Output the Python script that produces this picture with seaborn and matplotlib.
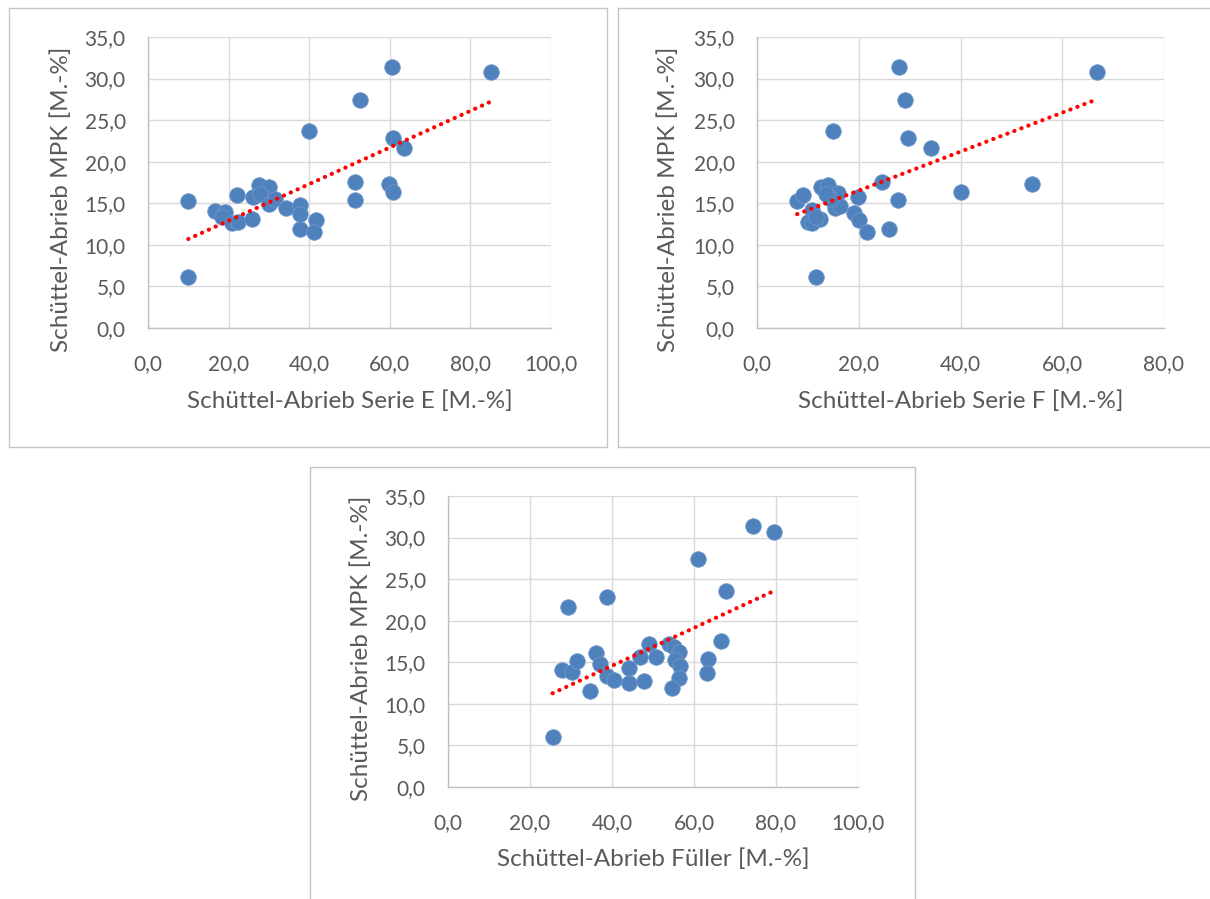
import numpy as np
import pandas as pd
import seaborn as sns
import matplotlib
matplotlib.use("Agg")
import matplotlib.pyplot as plt
from matplotlib.patches import Rectangle
from matplotlib.ticker import FuncFormatter, MultipleLocator

# ---------------- data ----------------
y_label = "Schüttel-Abrieb MPK [M.-%]"

x_e = [10.0, 10.0, 16.6, 19.1, 18.3, 20.8, 22.4, 22.2, 25.7, 26.1, 27.6, 30.1, 27.8, 30.1, 31.5, 34.2,
       37.6, 37.6, 37.6, 41.6, 41.2, 40.0, 52.5, 51.4, 51.4, 59.9, 60.9, 60.7, 63.6, 60.5, 85.0]
y_e = [15.3, 6.1, 14.1, 14.0, 13.4, 12.6, 12.8, 16.0, 13.1, 15.7, 17.2, 17.0, 16.1, 14.9, 15.5, 14.4,
       14.8, 13.7, 11.9, 13.0, 11.5, 23.7, 27.4, 17.6, 15.4, 17.3, 16.3, 22.9, 21.7, 31.4, 30.8]

x_f = [7.9, 9.0, 11.6, 10.8, 10.1, 10.8, 12.4, 12.6, 13.9, 16.0, 14.1, 15.4, 16.4, 19.8, 19.1, 20.1,
       21.6, 24.6, 27.7, 25.9, 14.9, 28.0, 29.1, 29.7, 34.2, 40.1, 54.0, 66.8, 14.5, 13.5, 11.5]
y_f = [15.3, 16.0, 6.1, 14.2, 12.8, 12.6, 13.1, 17.0, 17.2, 16.2, 15.8, 14.4, 14.7, 15.7, 13.8, 13.0,
       11.5, 17.6, 15.4, 11.9, 23.7, 31.4, 27.4, 22.9, 21.7, 16.3, 17.3, 30.8, 15.5, 16.1, 13.4]

x_g = [25.5, 29.2, 38.7, 27.7, 30.3, 31.5, 34.6, 36.0, 37.1, 38.7, 40.6, 44.2, 44.2, 46.8, 47.8, 49.1,
       50.7, 54.0, 55.0, 56.4, 55.4, 56.6, 56.4, 54.6, 63.5, 63.1, 66.6, 67.8, 61.0, 74.5, 79.6]
y_g = [6.0, 21.7, 22.8, 14.1, 13.8, 15.2, 11.6, 16.1, 14.8, 13.3, 12.9, 14.3, 12.5, 15.6, 12.7, 17.2,
       15.6, 17.2, 16.8, 16.2, 15.3, 14.6, 13.1, 11.9, 15.4, 13.7, 17.6, 23.6, 27.4, 31.4, 30.7]

x_labels = ["Schüttel-Abrieb Serie E [M.-%]", "Schüttel-Abrieb Serie F [M.-%]", "Schüttel-Abrieb Füller [M.-%]"]
x_max = [100, 80, 100]

# ---------------- style ----------------
sns.set_theme(style="whitegrid")
plt.rcParams['font.family'] = ['Lato', 'DejaVu Sans']

W, H = 1210, 899
fig = plt.figure(figsize=(W / 100, H / 100), dpi=100)
fig.patch.set_facecolor("white")

TEXT = "#595959"
GRID = "#d9d9d9"
AXIS = "#bfbfbf"
BLUE = "#4f81bd"

# frames (pixel boxes: left, top, right, bottom)
frames = [(9, 8, 607, 447), (618, 8, 1216, 447), (310, 467, 915, 905)]
for (l, t, r, b) in frames:
    fig.patches.append(Rectangle((l / W, 1 - b / H), (r - l) / W, (b - t) / H,
                                 transform=fig.transFigure, fill=False,
                                 edgecolor="#c4c4c4", linewidth=1.0))

axes_px = [(148, 37, 551, 328), (757, 37, 1164, 328), (448, 496, 858, 787)]
xlab_y_px = [401, 401, 859]
ylab_x_px = [61, 668, 361]

fmt = FuncFormatter(lambda v, p: f"{v:.1f}".replace(".", ","))

datasets = [(x_e, y_e), (x_f, y_f), (x_g, y_g)]

for i, ((l, t, r, b), (xs, ys)) in enumerate(zip(axes_px, datasets)):
    ax = fig.add_axes([l / W, 1 - b / H, (r - l) / W, (b - t) / H])
    ax.set_facecolor("white")
    df = pd.DataFrame({"x": xs, "y": ys})
    sns.scatterplot(data=df, x="x", y="y", ax=ax, color=BLUE, s=125,
                    edgecolor="#6f97c9", linewidth=0.6, zorder=3, legend=False)
    # linear trendline
    k, d = np.polyfit(df["x"], df["y"], 1)
    xx = np.array([df["x"].min(), df["x"].max()])
    ax.plot(xx, k * xx + d, color="#ff0000", linewidth=3.0,
            linestyle=(0, (0.05, 1.75)), dash_capstyle="round", zorder=4)

    ax.set_xlim(0, x_max[i])
    ax.set_ylim(0, 35)
    ax.xaxis.set_major_locator(MultipleLocator(20))
    ax.yaxis.set_major_locator(MultipleLocator(5))
    ax.xaxis.set_major_formatter(fmt)
    ax.yaxis.set_major_formatter(fmt)
    ax.grid(True, color=GRID, linewidth=1.0)
    for s in ["top", "right"]:
        ax.spines[s].set_visible(False)
    for s in ["left", "bottom"]:
        ax.spines[s].set_visible(True)
        ax.spines[s].set_color(AXIS)
        ax.spines[s].set_linewidth(1.0)
    ax.tick_params(axis="both", length=0, labelsize=15, labelcolor=TEXT)
    ax.tick_params(axis="x", pad=19)
    ax.tick_params(axis="y", pad=16)

    ax.set_xlabel(x_labels[i], fontsize=17.5, color=TEXT)
    ax.set_ylabel(y_label, fontsize=17.5, color=TEXT)
    ax.xaxis.label.set_va("center")
    ax.yaxis.label.set_va("center")
    ax.xaxis.set_label_coords(0.5, (b - xlab_y_px[i]) / (b - t))
    ylab_center = [199, 199, 648][i]
    ax.yaxis.set_label_coords((ylab_x_px[i] - l) / (r - l), (b - ylab_center) / (b - t))

fig.savefig("out.png", dpi=100, facecolor="white")
